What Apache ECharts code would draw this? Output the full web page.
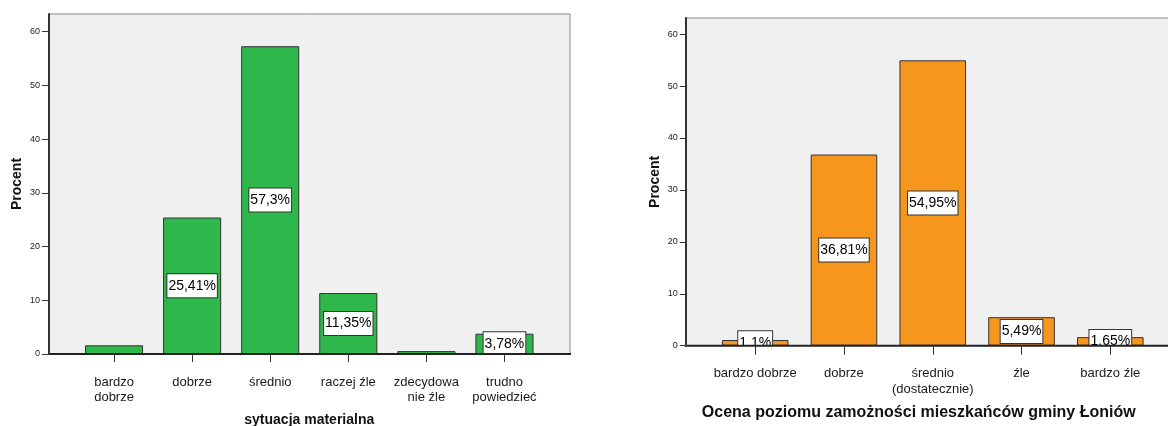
<!DOCTYPE html>
<html>
<head>
<meta charset="utf-8">
<script src="https://cdn.jsdelivr.net/npm/echarts@6/dist/echarts.min.js"></script>
<style>
html,body{margin:0;padding:0;background:#fff;}
#c{width:1168px;height:426px;}
</style>
</head>
<body>
<div id="c"></div>
<script>
// ---- data ----
const leftCategories = ['bardzo\ndobrze', 'dobrze', 'średnio', 'raczej źle', 'zdecydowa\nnie źle', 'trudno\npowiedzieć'];
const leftValues = [1.62, 25.41, 57.3, 11.35, 0.54, 3.78];
const leftLabelShown = [false, true, true, true, false, true];
const leftAxisName = 'sytuacja materialna';

const rightCategories = ['bardzo dobrze', 'dobrze', 'średnio\n(dostatecznie)', 'źle', 'bardzo źle'];
const rightValues = [1.1, 36.81, 54.95, 5.49, 1.65];
const rightLabelShown = [true, true, true, true, true];
const rightAxisName = 'Ocena poziomu zamożności mieszkańców gminy Łoniów';

const yTicks = [0, 10, 20, 30, 40, 50, 60];
const yName = 'Procent';

// ---- chart ----
const FONT = '"Liberation Sans", Arial, sans-serif';
const chart = echarts.init(document.getElementById('c'), null, {renderer: 'canvas'});

function fmt(v) { return String(v).replace('.', ',') + '%'; }

function barData(values, shown) {
  return values.map((v, i) => ({value: v, label: {show: shown[i]}}));
}

const labelStyle = {
  position: 'inside',
  formatter: p => fmt(p.value),
  color: '#000',
  fontFamily: FONT,
  fontSize: 14,
  lineHeight: 16,
  backgroundColor: '#fff',
  borderColor: '#333',
  borderWidth: 1,
  padding: [4, 1, 3, 1]
};

const option = {
  animation: false,
  backgroundColor: '#fff',
  grid: [
    {left: 75, right: 1168 - 543.5, top: 14, bottom: 426 - 354, outerBoundsMode: 'none', containLabel: false},
    {left: 710.8, right: 1168 - 1154.7, top: 18, bottom: 426 - 345.7, outerBoundsMode: 'none', containLabel: false}
  ],
  xAxis: [
    {
      gridIndex: 0, type: 'category', data: leftCategories, z: 4,
      axisLine: {show: false},
      axisTick: {show: true, alignWithLabel: true, length: 8, lineStyle: {color: '#333', width: 1}},
      axisLabel: {interval: 0, margin: 21, fontFamily: FONT, fontSize: 13, lineHeight: 15, color: '#1a1a1a'},
      name: leftAxisName, nameLocation: 'middle', nameGap: 59,
      nameTextStyle: {fontFamily: FONT, fontSize: 14, fontWeight: 'bold', color: '#111'}
    },
    {
      gridIndex: 1, type: 'category', data: rightCategories, z: 4,
      axisLine: {show: false},
      axisTick: {show: true, alignWithLabel: true, length: 9, lineStyle: {color: '#333', width: 1}},
      axisLabel: {interval: 0, margin: 20, fontFamily: FONT, fontSize: 13, lineHeight: 16, color: '#1a1a1a'},
      name: rightAxisName, nameLocation: 'middle', nameGap: 59,
      nameTextStyle: {fontFamily: FONT, fontSize: 16, fontWeight: 'bold', color: '#111', padding: [0, 28, 0, 0]}
    }
  ],
  yAxis: [
    {
      gridIndex: 0, type: 'value', min: 0, max: 63.3, interval: 10, offset: 26, z: 4,
      splitLine: {show: false},
      axisLine: {show: true, lineStyle: {color: '#333', width: 2}},
      axisTick: {show: true, length: 7, customValues: yTicks, lineStyle: {color: '#333', width: 1}},
      axisLabel: {customValues: yTicks, margin: 9, fontFamily: FONT, fontSize: 9, color: '#222'},
      name: yName, nameLocation: 'middle', nameGap: 25, nameRotate: 90,
      nameTextStyle: {fontFamily: FONT, fontSize: 14, fontWeight: 'bold', color: '#111'}
    },
    {
      gridIndex: 1, type: 'value', min: 0, max: 63.1, interval: 10, offset: 25, z: 4,
      splitLine: {show: false},
      axisLine: {show: true, lineStyle: {color: '#333', width: 2}},
      axisTick: {show: true, length: 6, customValues: yTicks, lineStyle: {color: '#333', width: 1}},
      axisLabel: {customValues: yTicks, margin: 8, fontFamily: FONT, fontSize: 9, color: '#222'},
      name: yName, nameLocation: 'middle', nameGap: 24, nameRotate: 90,
      nameTextStyle: {fontFamily: FONT, fontSize: 14, fontWeight: 'bold', color: '#111'}
    }
  ],
  series: [
    {
      type: 'bar', xAxisIndex: 0, yAxisIndex: 0, z: 2,
      data: barData(leftValues, leftLabelShown),
      barWidth: '74.4%',
      itemStyle: {color: '#2eb84b', borderColor: '#333', borderWidth: 1},
      label: labelStyle
    },
    {
      type: 'bar', xAxisIndex: 1, yAxisIndex: 1, z: 2,
      data: barData(rightValues, rightLabelShown),
      barWidth: '75%',
      itemStyle: {color: '#f7961d', borderColor: '#333', borderWidth: 1},
      label: labelStyle
    }
  ],
  graphic: [
    // left frame
    {type: 'rect', z: 0, silent: true, shape: {x: 49, y: 14, width: 521, height: 340}, style: {fill: '#f0f0f0', stroke: '#888', lineWidth: 1}},
    {type: 'rect', z: 3, silent: true, shape: {x: 49, y: 354, width: 522, height: 40}, style: {fill: '#fff'}},
    {type: 'line', z: 4, silent: true, shape: {x1: 48, y1: 354, x2: 571, y2: 354}, style: {stroke: '#222', lineWidth: 2}},
    // right frame
    {type: 'rect', z: 0, silent: true, shape: {x: 685.7, y: 18, width: 494.3, height: 327.7}, style: {fill: '#f0f0f0', stroke: '#888', lineWidth: 1}},
    {type: 'rect', z: 3, silent: true, shape: {x: 685.7, y: 345.7, width: 490, height: 40}, style: {fill: '#fff'}},
    {type: 'line', z: 4, silent: true, shape: {x1: 684.7, y1: 345.7, x2: 1168, y2: 345.7}, style: {stroke: '#222', lineWidth: 2}}
  ]
};
chart.setOption(option);
</script>
</body>
</html>
